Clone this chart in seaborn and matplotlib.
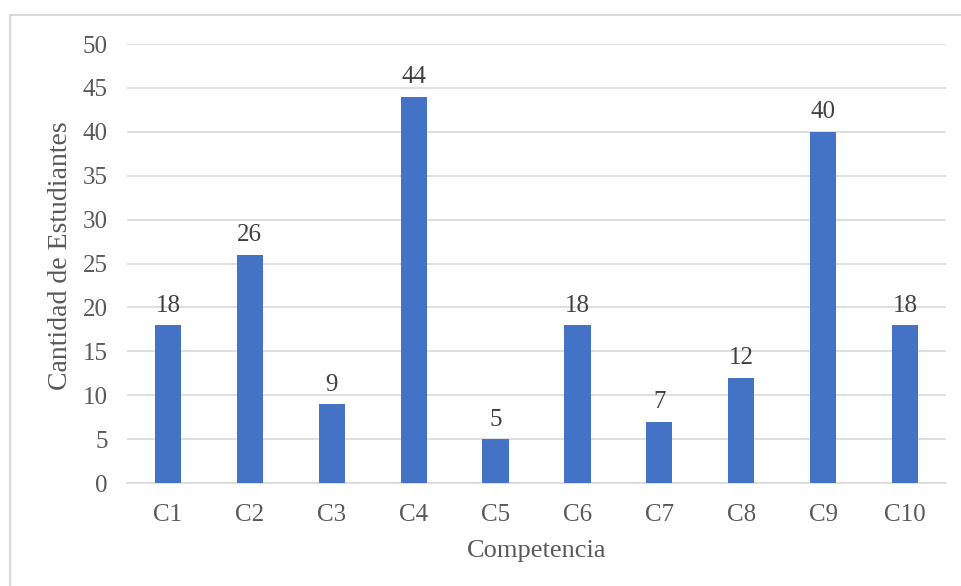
import matplotlib
matplotlib.use("Agg")
import matplotlib.pyplot as plt
import seaborn as sns
import pandas as pd
from matplotlib.patches import Rectangle

# data
competencias = ["C1", "C2", "C3", "C4", "C5", "C6", "C7", "C8", "C9", "C10"]
estudiantes = [18, 26, 9, 44, 5, 18, 7, 12, 40, 18]

df = pd.DataFrame({"Competencia": competencias, "Estudiantes": estudiantes})

sns.set_style("white")
plt.rcParams["font.family"] = ["Liberation Serif", "DejaVu Serif"]
gray = "#595959"

W, H = 962, 586
fig = plt.figure(figsize=(W / 100, H / 100), dpi=100)
# plot area in pixels: x 127..946, y 44..483
ax = fig.add_axes([127 / W, 1 - 483 / H, (946 - 127) / W, (483 - 44) / H])

sns.barplot(data=df, x="Competencia", y="Estudiantes", color="#4472C4",
            width=0.32, saturation=1, linewidth=0, ax=ax, zorder=3)

for cont in ax.containers:
    ax.bar_label(cont, labels=[str(v) for v in estudiantes], padding=6,
                 fontsize=18, color="#404040")

ax.set_ylim(0, 50)
ax.set_yticks(range(0, 51, 5))
ax.set_xlim(-0.5, len(competencias) - 0.5)
ax.grid(axis="y", color="#D9D9D9", linewidth=1.2, zorder=0)
for s in ["top", "right", "left"]:
    ax.spines[s].set_visible(False)
ax.spines["bottom"].set_color("#D9D9D9")
ax.spines["bottom"].set_linewidth(1.2)
ax.tick_params(axis="y", length=0, labelsize=18, labelcolor=gray, pad=14)
ax.tick_params(axis="x", length=0, labelsize=18, labelcolor=gray, pad=15)
ax.set_xlabel("Competencia", fontsize=19, color=gray, labelpad=10)
ax.set_ylabel("Cantidad de Estudiantes", fontsize=20, color=gray)
ax.yaxis.set_label_coords((73 - 127) / 819, (483 - 256) / 439)

# outer chart frame
fig.patches.append(Rectangle((10 / W, -0.1), 1.2, 1 - 15 / H + 0.1,
                             transform=fig.transFigure, fill=False,
                             edgecolor="#D9D9D9", linewidth=1.5))

fig.savefig("out.png", dpi=100, facecolor="white")
